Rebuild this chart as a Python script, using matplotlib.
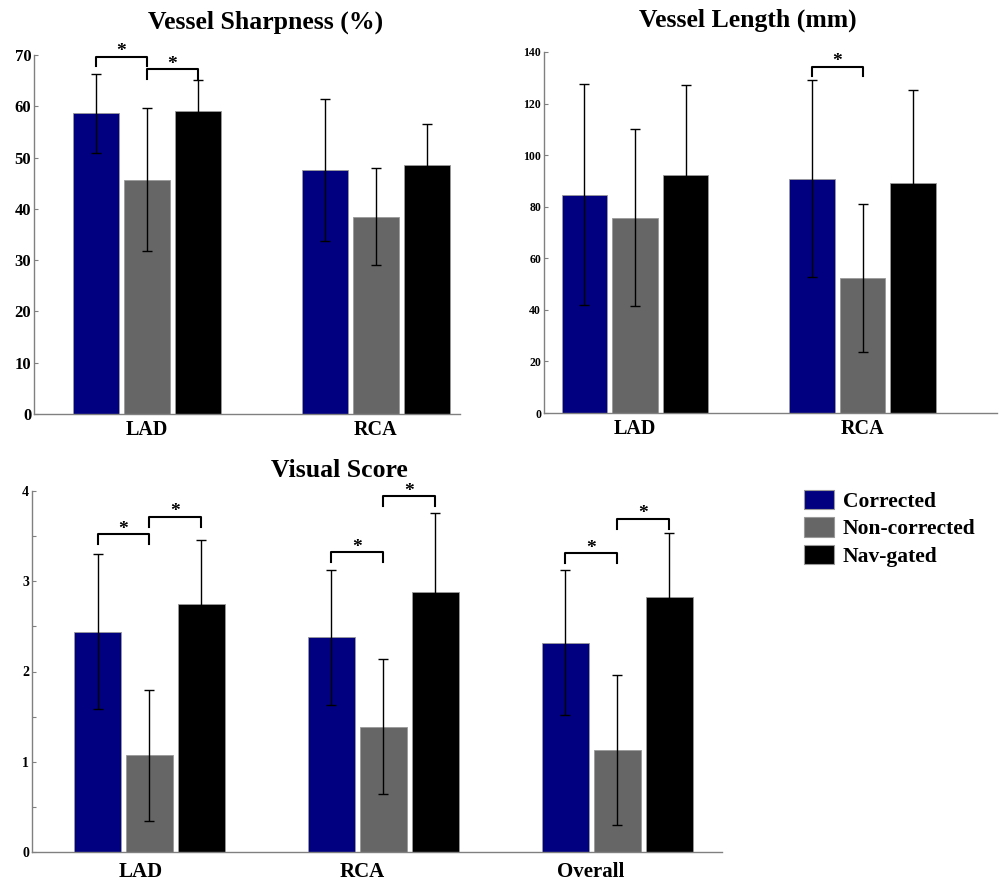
import matplotlib
matplotlib.use("Agg")
import matplotlib.pyplot as plt
from matplotlib.patches import Patch
import numpy as np

plt.rcParams['font.family'] = ['Liberation Serif', 'DejaVu Serif']
plt.rcParams['font.weight'] = 'bold'

W, H = 1001, 883

series = ["Corrected", "Non-corrected", "Nav-gated"]
cores = ["#000080", "#666666", "#000000"]

# Vessel Sharpness (%)
nitidez_grupos = ["LAD", "RCA"]
nitidez_corr = [58.6, 47.6]
nitidez_corr_dp = [7.7, 13.8]
nitidez_nao = [45.7, 38.5]
nitidez_nao_dp = [14.0, 9.5]
nitidez_nav = [59.1, 48.6]
nitidez_nav_dp = [6.0, 8.0]

# Vessel Length (mm)
comp_grupos = ["LAD", "RCA"]
comp_corr = [84.7, 90.9]
comp_corr_dp = [42.8, 38.1]
comp_nao = [75.7, 52.4]
comp_nao_dp = [34.3, 28.8]
comp_nav = [92.4, 89.1]
comp_nav_dp = [34.8, 36.2]

# Visual Score
visual_grupos = ["LAD", "RCA", "Overall"]
visual_corr = [2.44, 2.38, 2.32]
visual_corr_dp = [0.86, 0.75, 0.80]
visual_nao = [1.07, 1.39, 1.13]
visual_nao_dp = [0.73, 0.745, 0.83]
visual_nav = [2.75, 2.88, 2.82]
visual_nav_dp = [0.71, 0.88, 0.71]

# comparacoes significativas: (grupo, serie_a, serie_b, altura do colchete)
nitidez_sig = [(0, 0, 1, 69.7), (0, 1, 2, 67.2)]
comp_sig = [(1, 0, 1, 134.3)]
visual_sig = [(0, 0, 1, 3.52), (0, 1, 2, 3.71),
              (1, 0, 1, 3.32), (1, 1, 2, 3.94),
              (2, 0, 1, 3.31), (2, 1, 2, 3.69)]

largura = 0.2
desvio = 0.222


def caixa(esq, topo, dir, base):
    # pixeis -> fraccao da figura
    return [esq / W, 1 - base / H, (dir - esq) / W, (base - topo) / H]


def painel(ax, grupos, medias, dps, sig, braco, ylim, passo, fs_ticks, fs_grupos, pos_grupos, pad_grupos):
    xs = np.arange(1, len(grupos) + 1)
    for k in range(3):
        xk = xs + (k - 1) * desvio
        ax.bar(xk, medias[k], largura, color=cores[k], edgecolor='#9a9a9a', linewidth=0.6, zorder=2)
        ax.errorbar(xk, medias[k], yerr=dps[k], fmt='none', ecolor='k', elinewidth=1,
                    capsize=3.5, capthick=1, zorder=3)
    for g, a, b, h in sig:
        x1 = xs[g] + (a - 1) * desvio
        x2 = xs[g] + (b - 1) * desvio
        ax.plot([x1, x1, x2, x2], [h - braco, h, h, h - braco], color='k', lw=1.5, zorder=4,
                clip_on=False)
        ax.annotate('*', ((x1 + x2) / 2, h), xytext=(0, 0.5), textcoords='offset points',
                    ha='center', va='baseline', fontsize=14)
    ax.set_ylim(0, ylim)
    ax.set_yticks(np.arange(0, ylim + passo / 2, passo))
    ax.set_xticks(pos_grupos)
    ax.set_xticklabels(grupos, fontsize=fs_grupos)
    for s in ["top", "right"]:
        ax.spines[s].set_visible(False)
    for s in ["left", "bottom"]:
        ax.spines[s].set_color('#808080')
        ax.spines[s].set_linewidth(1)
    ax.tick_params(axis='y', direction='in', length=3, width=0.8, color='#808080',
                   labelsize=fs_ticks, pad=2)
    ax.tick_params(axis='x', length=0, pad=pad_grupos)


fig = plt.figure(figsize=(W / 100, H / 100), dpi=100)

ax1 = fig.add_axes(caixa(34, 55, 460, 414))
painel(ax1, nitidez_grupos,
       [nitidez_corr, nitidez_nao, nitidez_nav],
       [nitidez_corr_dp, nitidez_nao_dp, nitidez_nav_dp],
       nitidez_sig, 1.8, 70, 10, 12, 14.5, [1, 2], 4)
ax1.set_xlim(0.507, 2.367)

ax2 = fig.add_axes(caixa(544, 52, 997, 413))
painel(ax2, comp_grupos,
       [comp_corr, comp_nao, comp_nav],
       [comp_corr_dp, comp_nao_dp, comp_nav_dp],
       comp_sig, 3.6, 140, 20, 8.5, 14.5, [1, 2], 4)
ax2.set_xlim(0.6, 2.591)

ax3 = fig.add_axes(caixa(32, 491, 722, 852))
painel(ax3, visual_grupos,
       [visual_corr, visual_nao, visual_nav],
       [visual_corr_dp, visual_nao_dp, visual_nav_dp],
       visual_sig, 0.11, 4, 1, 10, 15, [0.964, 1.908, 2.887], 7)
ax3.set_xlim(0.498, 3.447)
ax3.set_yticks(np.arange(0.5, 4, 1), minor=True)
ax3.tick_params(axis='y', which='minor', direction='in', length=3, width=0.8, color='#808080')

fig.text(266 / W, 1 - 29 / H, "Vessel Sharpness (%)", ha='center', va='baseline', fontsize=18.5)
fig.text(748 / W, 1 - 27 / H, "Vessel Length (mm)", ha='center', va='baseline', fontsize=18.5)
fig.text(339 / W, 1 - 477 / H, "Visual Score", ha='center', va='baseline', fontsize=18.5)

maos = [Patch(facecolor=c, edgecolor='#999999', linewidth=0.8) for c in cores]
fig.legend(maos, series, loc='upper left', bbox_to_anchor=(804 / W, 1 - 490 / H),
           frameon=False, fontsize=15.5, handlelength=1.4, handleheight=1.0,
           handletextpad=0.4, labelspacing=0.25, borderpad=0, borderaxespad=0)

fig.savefig("out.png", dpi=100)
